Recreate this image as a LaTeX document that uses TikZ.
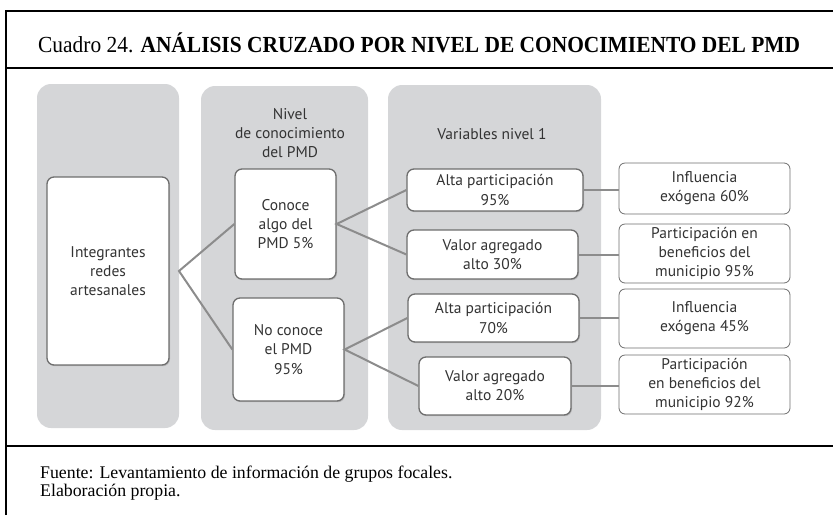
\documentclass[tikz,border=0pt]{standalone}
\usepackage{fontspec}
\setmainfont{Liberation Serif}
\newfontfamily\diag{PT Sans}
\usetikzlibrary{shadows}
\definecolor{panelgray}{HTML}{D5D6D8}
\definecolor{boxborder}{HTML}{6E6E6E}
\definecolor{linegray}{HTML}{8C8C8C}
\definecolor{txt}{HTML}{333333}
\begin{document}
\begin{tikzpicture}[x=1pt,y=-1pt,
  panel/.style={fill=panelgray, draw=none, rounded corners=14pt},
  dtext/.style={font=\diag\fontsize{15.5}{19.2}\selectfont, text=txt, align=center, inner sep=0pt},
  ibox/.style={dtext, draw=boxborder, line width=1.3pt, fill=white, rounded corners=7pt,
    drop shadow={shadow xshift=1pt, shadow yshift=-1.2pt, opacity=0.35}},
  rbox/.style={dtext, draw=boxborder, line width=0.8pt, fill=white, rounded corners=6pt},
  conn/.style={draw=linegray, line width=2pt},
  frame/.style={line width=1.8pt, black}
]
\useasboundingbox (0,0) rectangle (833,515);
% frame
\draw[frame] (6,515) -- (6,11) -- (833,11);
\draw[frame] (6,68) -- (833,68);
\draw[frame] (6,446) -- (833,446);
% title
\node[anchor=base west, inner sep=0pt] (title) at (38,52)
  {\resizebox{762pt}{\height}{\fontsize{23}{26}\selectfont Cuadro 24. \textbf{ANÁLISIS CRUZADO POR NIVEL DE CONOCIMIENTO DEL PMD}}};
% footer
\node[anchor=base west, inner sep=0pt, align=left, font=\fontsize{17.8}{18.5}\selectfont] (foot) at (40,496.5)
  {Fuente: Levantamiento de información de grupos focales.\\Elaboración propia.};
% panels
\fill[panel] (37,84) rectangle (179,428);
\fill[panel] (201,86) rectangle (368,430);
\fill[panel] (388,85) rectangle (601,430);
% headers
\node[dtext] (h2) at (290,133) {Nivel\\de conocimiento\\del PMD};
\node[dtext] (h3) at (492,134) {Variables nivel 1};
% boxes
\node[ibox, minimum width=122pt, minimum height=188pt] (intg) at (108,271) {Integrantes\\redes\\artesanales};
\node[ibox, minimum width=101pt, minimum height=110pt] (con) at (285.5,224) {Conoce\\algo del\\PMD 5\%};
\node[ibox, minimum width=111pt, minimum height=103pt] (ncon) at (288.5,349.5) {No conoce\\el PMD\\95\%};
\node[ibox, minimum width=176pt, minimum height=42pt] (a1) at (495,190) {Alta participación\\95\%};
\node[ibox, minimum width=171pt, minimum height=49pt] (v1) at (492.5,254.5) {Valor agregado\\alto 30\%};
\node[ibox, minimum width=171pt, minimum height=48pt] (a2) at (493.5,318) {Alta participación\\70\%};
\node[ibox, minimum width=152pt, minimum height=58pt] (v2) at (495,386) {Valor agregado\\alto 20\%};
\node[rbox, minimum width=171pt, minimum height=51pt] (r1) at (704.5,188.5) {Influencia\\exógena 60\%};
\node[rbox, minimum width=171pt, minimum height=59pt] (r2) at (704.5,253.5) {Participación en\\beneficios del\\municipio 95\%};
\node[rbox, minimum width=171pt, minimum height=59pt] (r3) at (704.5,318.5) {Influencia\\exógena 45\%};
\node[rbox, minimum width=171pt, minimum height=59pt] (r4) at (704.5,384.5) {Participación\\en beneficios del\\municipio 92\%};
% connectors
\coordinate (j1) at (179,271);
\draw[conn] (con.west) -- (j1) -- (ncon.west);
\draw[conn] (a1.west) -- (con.east) -- (v1.west);
\draw[conn] (a2.west) -- (ncon.east) -- (v2.west);
\draw[conn] (a1.east) -- (a1.east -| r1.west);
\draw[conn] (v1.east) -- (v1.east -| r2.west);
\draw[conn] (a2.east) -- (a2.east -| r3.west);
\draw[conn] (v2.east) -- (v2.east -| r4.west);
\end{tikzpicture}
\end{document}
